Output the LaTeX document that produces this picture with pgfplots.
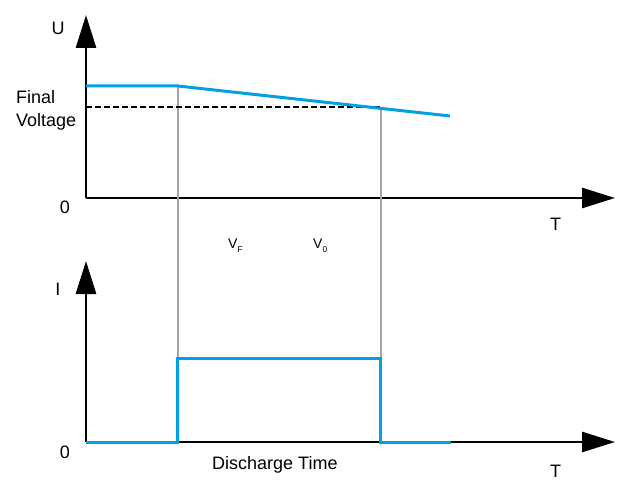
\documentclass[border=0pt]{standalone}
\usepackage{pgfplots}
\pgfplotsset{compat=1.18}
\usetikzlibrary{arrows.meta}
\usepackage{fontspec}
\setmainfont{Liberation Sans}

\definecolor{pulse}{RGB}{0,160,227}
\definecolor{guide}{RGB}{165,165,165}

% 1 axis unit = 1bp, origin of the upper axis at pixel (86,198)
\pgfplotsset{
  diag/.style={
    scale only axis, axis lines*=left,
    width=529bp, xmin=0, xmax=529, ymin=0,
    xtick=\empty, ytick=\empty, clip=false,
    axis line style={line width=2.8bp, -{Triangle[length=33bp,width=20bp]}},
  }
}

\begin{document}
\begin{tikzpicture}[font=\fontsize{18bp}{21bp}\selectfont]
\path (-86bp,198bp) rectangle (556bp,-301bp);

% voltage
\begin{axis}[diag, height=183bp, ymax=183]
\addplot[guide, line width=1.4bp] coordinates {(92,112) (92,-160)};
\addplot[guide, line width=1.4bp] coordinates {(295,90) (295,-160)};
\addplot[black, line width=2.4bp, dash pattern=on 5.5bp off 3.5bp] coordinates {(0,91) (295,91)};
\addplot[pulse, line width=3bp] coordinates {(0,112) (92,112) (364,82)};
\end{axis}

% current
\begin{axis}[diag, at={(0,-244bp)}, height=181bp, ymax=181]
\addplot[pulse, line width=3bp] coordinates {(0,0) (91,0) (91,84) (294,84) (294,0) (365,0)};
\end{axis}

\node[anchor=base] at (-28bp,163bp) {U};
\node[anchor=base west, inner sep=0pt] at (-70bp,94bp) {Final};
\node[anchor=base west, inner sep=0pt] at (-70bp,71bp) {Voltage};
\node[anchor=base] at (-21bp,-15bp) {0};
\node[anchor=base] at (469.5bp,-32bp) {T};
\node[anchor=base west, inner sep=0pt, font=\fontsize{14bp}{16bp}\selectfont] at (142bp,-50bp)
  {V\raisebox{-4bp}{\fontsize{8.5bp}{10bp}\selectfont F}};
\node[anchor=base west, inner sep=0pt, font=\fontsize{14bp}{16bp}\selectfont] at (227bp,-50bp)
  {V\raisebox{-4bp}{\fontsize{8.5bp}{10bp}\selectfont 0}};
\node[anchor=base] at (-28bp,-97bp) {I};
\node[anchor=base] at (-21bp,-260bp) {0};
\node[anchor=base west, inner sep=0pt] at (126bp,-271bp) {Discharge Time};
\node[anchor=base] at (469.5bp,-279bp) {T};
\end{tikzpicture}
\end{document}
